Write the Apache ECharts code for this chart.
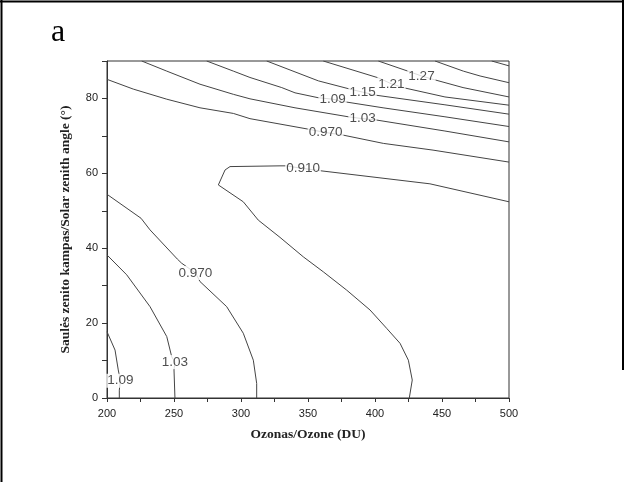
<!DOCTYPE html>
<html>
<head>
<meta charset="utf-8">
<script src="https://cdn.jsdelivr.net/npm/echarts@6/dist/echarts.min.js"></script>
<style>html,body{margin:0;padding:0;background:#fff;}#c{width:632px;height:482px;}</style>
</head>
<body>
<div id="c"></div>
<script>
// Axis ranges / ticks
const xMin = 200, xMax = 500, xStep = 25, xLabelStep = 50;
const yMin = 0, yMax = 90, yStep = 10, yLabelStep = 20;

// Contour lines [ozone DU, zenith angle deg]
const c139 = [[487.1,90],[500,88.7]];
const c133 = [[444.8,90],[465.9,87.3],[478.4,86.0],[500,84.2]];
const c127 = [[402.5,90],[426.1,87.1],[434.7,86.0],[443.3,85.1],[465.7,82.9],[500,80.4]];
const c121 = [[361.4,90],[402.5,85.5],[412.3,83.9],[420.9,82.9],[452.2,80.4],[500,78.2]];
const c115 = [[319.2,90],[357.7,84.7],[381.3,82.5],[390.7,81.7],[400,80.9],[452.2,78.3],[500,75.8]];
const c109top = [[274.4,90],[294.3,87.3],[306.7,85.6],[330.4,82.9],[340.3,81.5],[357.5,80.2],[368.3,79.8],[377.6,79.1],[406,77.5],[452.2,75.1],[500,72.5]];
const c103top = [[225.9,90],[244.6,87.3],[269.4,83.8],[294.3,81.1],[306.7,79.9],[340.3,77.5],[380.1,75.1],[390.7,74.6],[400,74.3],[452.2,71.3],[500,68.4]];
const c097top = [[200,85.1],[219.6,82.5],[244.6,79.8],[269.4,77.5],[294.3,76.0],[306.7,74.6],[350.2,71.8],[363.1,70.9],[376.3,70.2],[406.2,68.0],[443.3,66.2],[500,63.0]];
const c091 = [[500,52.4],[441.0,57.2],[359.0,60.7],[346.3,61.3],[333.6,62.0],[329.1,62.0],[291.8,61.8],[288.1,60.9],[283.1,56.9],[301.7,52.4],[312.9,47.5],[329.1,42.9],[346.5,37.7],[361.4,33.7],[378.9,28.8],[396.3,23.5],[408.7,18.6],[418.7,14.6],[424.9,10.1],[427.8,4.8],[425.6,0]];
const c097low = [[200,54.4],[225.4,48.0],[232.1,44.9],[252.5,37.1],[255.7,36.0],[266.0,33.4],[269.4,31.1],[289.3,24.4],[301.7,17.3],[309.2,10.1],[311.7,3.9],[311.7,0]];
const c103low = [[200,38.2],[214.7,32.9],[232.1,24.4],[244.6,16.4],[248.3,11.0],[250.7,9.6],[250.0,7.5],[250.7,0]];
const c109low = [[200,17.7],[206,12.8],[208.4,7.5],[210,4.6],[209.2,2.1],[209.2,0]];

// Contour labels [x, y, text]
const contourLabels = [
  [434.7,86.0,'1.27'],
  [412.3,83.9,'1.21'],
  [390.7,81.7,'1.15'],
  [368.3,79.8,'1.09'],
  [390.7,74.6,'1.03'],
  [363.1,70.9,'0.970'],
  [346.3,61.3,'0.910'],
  [266.0,33.4,'0.970'],
  [250.7,9.6,'1.03'],
  [210.0,4.6,'1.09']
];

const xTitle = 'Ozonas/Ozone (DU)';
const yTitle = 'Saulės zenito kampas/Solar zenith angle (°)';
const panelLetter = 'a';

const contours = [c139,c133,c127,c121,c115,c109top,c103top,c097top,c091,c097low,c103low,c109low];

const chart = echarts.init(document.getElementById('c'), null, {renderer:'canvas'});
const series = contours.map(d => ({
  type:'line', data:d, showSymbol:false, symbol:'none', smooth:false,
  lineStyle:{color:'#444', width:1}, silent:true, animation:false, z:2
}));
series.push({
  type:'scatter', data:contourLabels, symbolSize:2,
  itemStyle:{color:'rgba(255,255,255,0)'}, z:5, animation:false, silent:true,
  label:{show:true, position:'inside', formatter:p=>p.value[2],
    fontFamily:'Liberation Sans, Arial, sans-serif', fontSize:13.5, color:'#222',
    backgroundColor:'#fff', padding:[0,1]}
});

chart.setOption({
  animation:false,
  backgroundColor:'#fff',
  grid:{left:107, right:123, top:61, bottom:84, show:true, borderColor:'#333', borderWidth:1, backgroundColor:'transparent'},
  xAxis:{type:'value', min:xMin, max:xMax, interval:xStep,
    name:xTitle, nameLocation:'middle', nameGap:30,
    nameTextStyle:{fontFamily:'Liberation Serif, Times New Roman, serif', fontWeight:'bold', fontSize:13.5, color:'#222'},
    axisLine:{show:true, lineStyle:{color:'#333', width:1}},
    axisTick:{show:true, length:4, lineStyle:{color:'#333'}},
    axisLabel:{margin:10, fontFamily:'Liberation Sans, Arial, sans-serif', fontSize:11, color:'#222',
      formatter:v => (v % xLabelStep === 0 ? String(v) : '')},
    splitLine:{show:false}},
  yAxis:{type:'value', min:yMin, max:yMax, interval:yStep,
    name:yTitle, nameLocation:'middle', nameGap:34, nameRotate:90,
    nameTextStyle:{fontFamily:'Liberation Serif, Times New Roman, serif', fontWeight:'bold', fontSize:13.5, color:'#222'},
    axisLine:{show:true, lineStyle:{color:'#333', width:1}},
    axisTick:{show:true, length:5, lineStyle:{color:'#333'}},
    axisLabel:{margin:9, fontFamily:'Liberation Sans, Arial, sans-serif', fontSize:11, color:'#222',
      formatter:v => (v % yLabelStep === 0 && v < yMax ? String(v) : '')},
    splitLine:{show:false}},
  graphic:[
    {type:'text', left:51, top:17, style:{text:panelLetter, font:'32px "Liberation Serif", serif', fill:'#000'}},
    {type:'line', shape:{x1:1.5,y1:0,x2:1.5,y2:482}, style:{stroke:'#000', lineWidth:2}},
    {type:'line', shape:{x1:0,y1:1.5,x2:624,y2:1.5}, style:{stroke:'#000', lineWidth:2}},
    {type:'line', shape:{x1:623,y1:0,x2:623,y2:370}, style:{stroke:'#000', lineWidth:2}}
  ],
  series:series
});
</script>
</body>
</html>
